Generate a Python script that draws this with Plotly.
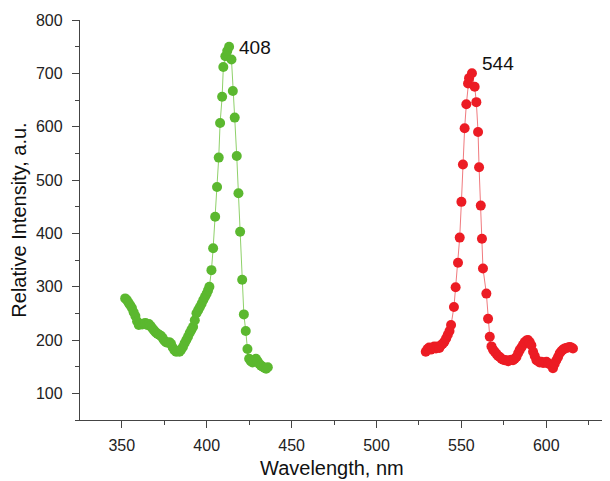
import plotly.graph_objects as go

# Green band (wavelength, nm / relative intensity, a.u.)
green_nm = [352, 353, 354, 355, 356, 357, 358, 359, 360, 361, 362, 363, 364, 365, 366, 367, 368, 369, 370,
            371, 372, 373, 374, 375, 376, 377, 378, 379, 380, 381, 382, 383, 384, 385, 386, 387, 388, 389,
            390, 391, 392, 393, 394, 395, 396, 397, 398, 399, 400,
            400.8, 401.6, 402.8, 403.8, 405.0, 406.1, 407.1, 407.9, 409.1, 409.8, 411.0, 412.1, 413.2,
            414.6, 415.4, 416.5, 417.7, 418.7, 419.7, 420.9, 421.9, 423.0, 424.0,
            425, 426, 427, 428, 429, 430, 431, 432, 433, 434, 435, 436]
green_I = [278, 275, 270, 265, 260, 252, 245, 235, 228, 230, 229, 231, 232, 228, 230, 226, 222, 218, 214,
           212, 210, 208, 204, 199, 196, 195, 196, 193, 186, 181, 178, 179, 178, 182, 187, 194, 200, 206,
           213, 219, 225, 237, 250, 256, 262, 268, 275, 281, 287,
           293, 300, 331, 372, 431, 487, 542, 607, 656, 712, 732, 742, 750,
           726, 667, 617, 545, 475, 403, 313, 248, 217, 183,
           165, 160, 158, 162, 165, 160, 155, 152, 150, 148, 146, 149]

# Red band
red_nm = [529, 530, 531, 532, 533, 534, 535, 536, 537, 538, 539, 540, 541, 542, 543,
          543.9, 545.6, 546.6, 548.0, 549.0, 550.0, 550.9, 551.9, 552.9, 553.9, 554.5, 556.2, 557.8,
          558.8, 559.8, 560.4, 561.4, 562.1, 562.7, 564.7, 565.7, 566.7, 567.7,
          568.6, 569.6, 570.6, 571.6, 572.6, 573.6, 574.6, 575.6, 576.5, 577.5,
          578.5, 579.5, 580.4, 581.4, 582.4, 583.4, 584.3, 585.3, 586.3, 587.3,
          588.3, 589.2, 590.2, 591.2, 592.2, 593.2, 594.2, 595.2, 596.1, 597.1,
          598.1, 599.1, 600.1, 601.0, 602.0, 603.0, 603.9, 604.9, 605.9, 606.9,
          607.9, 608.8, 609.8, 610.8, 611.8, 612.8, 613.8, 614.7, 615.7]
red_I = [178, 183, 186, 182, 185, 188, 184, 188, 185, 190, 193, 197, 203, 210, 217,
         228, 262, 299, 345, 392, 459, 529, 597, 642, 681, 691, 700, 675,
         646, 590, 524, 452, 390, 334, 287, 240, 206, 188,
         182, 178, 174, 170, 168, 165, 163, 162, 162, 160,
         162, 163, 162, 165, 168, 175, 181, 186, 191, 196,
         199, 200, 196, 190, 178, 170, 162, 160, 158, 159,
         157, 158, 159, 156, 155, 153, 147, 155, 162, 168,
         175, 179, 182, 184, 185, 186, 187, 186, 184]

peak_labels = ["408", "544"]
peak_pos = [(418, 748), (560.8, 719)]

x_ticks = [350, 400, 450, 500, 550, 600]
y_ticks = [100, 200, 300, 400, 500, 600, 700, 800]

GREEN = "#5BB82F"
RED = "#EC1C24"
FONT = "Liberation Sans, Arial, sans-serif"

fig = go.Figure()
fig.add_trace(go.Scatter(x=green_nm, y=green_I, mode="lines+markers",
                         line=dict(color="#8FD16A", width=1),
                         marker=dict(color=GREEN, size=10), showlegend=False))
fig.add_trace(go.Scatter(x=red_nm, y=red_I, mode="lines+markers",
                         line=dict(color="#F07A7E", width=1),
                         marker=dict(color=RED, size=10), showlegend=False))

for txt, (px, py) in zip(peak_labels, peak_pos):
    fig.add_annotation(x=px, y=py, text=txt, showarrow=False, xanchor="left", yanchor="middle",
                       font=dict(family=FONT, size=19, color="#111"))

# x-axis title (placed as paper annotation to match the reference's horizontal position)
fig.add_annotation(x=0.4755, y=0, xref="paper", yref="paper", yshift=-48, text="Wavelength, nm",
                   showarrow=False, xanchor="center", yanchor="middle",
                   font=dict(family=FONT, size=20, color="#111"))

axis_common = dict(showgrid=False, zeroline=False, showline=True, linecolor="#444", linewidth=1.3,
                   ticks="outside", ticklen=7, tickwidth=1.2, tickcolor="#444",
                   tickfont=dict(family=FONT, size=16, color="#222"))

fig.update_xaxes(range=[325.4, 637.5], tickvals=x_ticks, ticktext=[str(v) for v in x_ticks],
                 minor=dict(ticks="outside", ticklen=4, tickwidth=1.2, tickcolor="#444", dtick=25, tick0=0),
                 ticklabelstandoff=4, **axis_common)
fig.update_yaxes(range=[50, 800], tickvals=y_ticks, ticktext=[str(v) for v in y_ticks],
                 minor=dict(ticks="outside", ticklen=4, tickwidth=1.2, tickcolor="#444", dtick=50, tick0=0),
                 title=dict(text="Relative Intensity, a.u.", font=dict(family=FONT, size=20, color="#111"), standoff=5),
                 ticklabelstandoff=6, **axis_common)

fig.update_layout(width=602, height=473, margin=dict(l=72, r=0, t=12, b=61, autoexpand=False),
                  plot_bgcolor="white", paper_bgcolor="white", font=dict(family=FONT))
fig.write_html("out.html")
